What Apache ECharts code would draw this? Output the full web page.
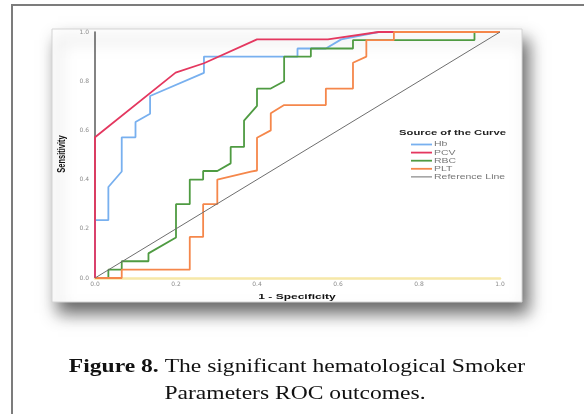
<!DOCTYPE html>
<html>
<head>
<meta charset="utf-8">
<script src="https://cdn.jsdelivr.net/npm/echarts@6/dist/echarts.min.js"></script>
<style>
  html, body { margin: 0; padding: 0; background: #fff; overflow: hidden; }
  #chart { width: 584px; height: 414px; }
</style>
</head>
<body>
<div id="chart"></div>
<script>
// ROC curves, points are [1 - specificity, sensitivity]
const tickValues = [0, 0.2, 0.4, 0.6, 0.8, 1.0];
const curveNames = ['Hb', 'PCV', 'RBC', 'PLT', 'Reference Line'];

const hbPoints = [
  [0, 0], [0, 0.235], [0.033, 0.235], [0.033, 0.37], [0.066, 0.433], [0.066, 0.572],
  [0.1, 0.572], [0.1, 0.634], [0.136, 0.668], [0.136, 0.74], [0.269, 0.834], [0.269, 0.9],
  [0.5, 0.9], [0.5, 0.933], [0.57, 0.933], [0.608, 0.97], [0.7, 1.0], [1, 1]
];
const pcvPoints = [
  [0, 0], [0, 0.572], [0.199, 0.835], [0.269, 0.873], [0.4, 0.97], [0.575, 0.97], [0.7, 1.0], [1, 1]
];
const rbcPoints = [
  [0, 0], [0.033, 0], [0.033, 0.034], [0.066, 0.034], [0.066, 0.068], [0.132, 0.068],
  [0.132, 0.1], [0.2, 0.165], [0.2, 0.3], [0.234, 0.3], [0.234, 0.4], [0.267, 0.4],
  [0.267, 0.435], [0.302, 0.435], [0.335, 0.466], [0.335, 0.533], [0.368, 0.533],
  [0.368, 0.64], [0.4, 0.7], [0.4, 0.77], [0.434, 0.77], [0.467, 0.8], [0.467, 0.9],
  [0.533, 0.9], [0.533, 0.933], [0.637, 0.933], [0.637, 0.967], [0.937, 0.967],
  [0.937, 1.0], [1, 1]
];
const pltPoints = [
  [0, 0], [0.066, 0], [0.066, 0.034], [0.234, 0.034], [0.234, 0.167], [0.267, 0.167],
  [0.267, 0.3], [0.302, 0.3], [0.302, 0.4], [0.385, 0.432], [0.4, 0.437], [0.4, 0.57],
  [0.434, 0.6], [0.434, 0.67], [0.467, 0.703], [0.57, 0.703], [0.57, 0.77], [0.637, 0.77],
  [0.637, 0.875], [0.67, 0.9], [0.67, 0.967], [0.738, 0.967], [0.738, 1.0], [1, 1]
];
const refPoints = [[0, 0], [1, 1]];

const curveData = [hbPoints, pcvPoints, rbcPoints, pltPoints, refPoints];
const curveColors = ['#78b0ef', '#e4375f', '#4f9b42', '#f5874b', '#6e6e6e'];
const curveWidths = [1.8, 1.8, 1.8, 1.8, 1];

const chart = echarts.init(document.getElementById('chart'), null, { renderer: 'canvas' });

const stretch = 1.5; // the picture is squashed wide, text looks stretched
const axisFont = 'Liberation Sans';

const legendItems = [];
curveNames.forEach((name, i) => {
  const y = 144.5 + i * 8.1;
  legendItems.push({
    type: 'line', z: 10,
    shape: { x1: 411, y1: y, x2: 432, y2: y },
    style: { stroke: curveColors[i], lineWidth: i === 4 ? 1 : 1.8 }
  });
  legendItems.push({
    type: 'text', z: 10, x: 434, y: y, scaleX: stretch,
    style: { text: name, fill: '#777', font: '7px ' + axisFont, textVerticalAlign: 'middle' }
  });
});

chart.setOption({
  animation: false,
  grid: { left: 95, right: 84, top: 32, bottom: 136 },
  xAxis: {
    type: 'value', min: 0, max: 1, interval: 0.2,
    axisLine: { lineStyle: { color: '#f6e8a8', width: 2.5, cap: 'round' } },
    axisTick: { show: false },
    splitLine: { show: false },
    axisLabel: {
      margin: 3, color: '#8c8c8c', fontSize: 6, fontFamily: 'DejaVu Sans',
      formatter: (v) => v.toFixed(1)
    }
  },
  yAxis: {
    type: 'value', min: 0, max: 1, interval: 0.2,
    axisLine: { show: true, lineStyle: { color: '#5a5a5a', width: 1.5 } },
    axisTick: { show: false },
    splitLine: { show: false },
    axisLabel: {
      margin: 6, color: '#8c8c8c', fontSize: 6, fontFamily: 'DejaVu Sans',
      formatter: (v) => v.toFixed(1)
    }
  },
  series: curveData.map((pts, i) => ({
    name: curveNames[i],
    type: 'line',
    data: pts,
    showSymbol: false,
    lineStyle: { color: curveColors[i], width: curveWidths[i] },
    z: 2 + i
  })),
  graphic: [
    {
      type: 'rect', z: -10,
      shape: { x: 12, y: 5, width: 620, height: 460 },
      style: { fill: '#fff', stroke: '#7c7c7c', lineWidth: 2 }
    },
    {
      type: 'rect', z: -9,
      shape: { x: 52, y: 29, width: 470, height: 273 },
      style: {
        fill: '#fff', stroke: '#d4d4d4', lineWidth: 1,
        shadowBlur: 16, shadowOffsetX: 6, shadowOffsetY: 11,
        shadowColor: 'rgba(0,0,0,0.6)'
      }
    },
    {
      type: 'text', z: 10, x: 62, y: 154, rotation: Math.PI / 2, scaleY: stretch,
      style: {
        text: 'Sensitivity', fill: '#111', font: 'bold 7.5px ' + axisFont,
        textAlign: 'center', textVerticalAlign: 'middle'
      }
    },
    {
      type: 'text', z: 10, x: 297, y: 297, scaleX: stretch,
      style: {
        text: '1 - Specificity', fill: '#111', font: 'bold 8px ' + axisFont,
        textAlign: 'center', textVerticalAlign: 'middle'
      }
    },
    {
      type: 'text', z: 10, x: 399, y: 133, scaleX: stretch,
      style: {
        text: 'Source of the Curve', fill: '#222', font: 'bold 7.5px ' + axisFont,
        textVerticalAlign: 'middle'
      }
    },
    ...legendItems,
    {
      type: 'text', z: 10, x: 297, y: 367, scaleX: 1.24,
      style: {
        text: '{b|Figure 8.} The significant hematological Smoker',
        fill: '#111', font: '19px "Liberation Serif"',
        textAlign: 'center', textVerticalAlign: 'middle',
        rich: { b: { fontWeight: 'bold', fontSize: 19, fontFamily: 'Liberation Serif', fill: '#111' } }
      }
    },
    {
      type: 'text', z: 10, x: 295, y: 394, scaleX: 1.24,
      style: {
        text: 'Parameters ROC outcomes.', fill: '#111', font: '19px "Liberation Serif"',
        textAlign: 'center', textVerticalAlign: 'middle'
      }
    }
  ]
});
</script>
</body>
</html>
